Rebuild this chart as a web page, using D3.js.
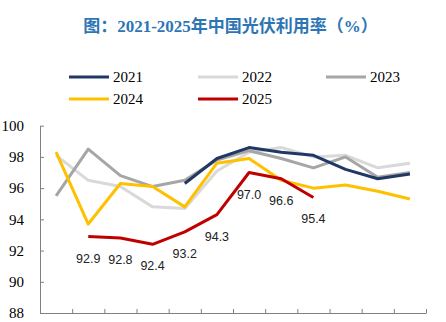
<!DOCTYPE html>
<html>
<head>
<meta charset="utf-8">
<script src="https://cdn.jsdelivr.net/npm/d3@7"></script>
<style>
  body { margin: 0; background: #fff; }
  svg { display: block; }
</style>
</head>
<body>
<div id="chart"></div>
<script>
// months 1..12, null = no data
const months = d3.range(1, 13);
const y2021 = [null, null, null, null, 96.3, 97.9, 98.6, 98.3, 98.1, 97.2, 96.6, 96.9];
const y2022 = [98.1, 96.5, 96.1, 94.8, 94.7, 97.1, 98.3, 98.6, 98.0, 98.1, 97.3, 97.6];
const y2023 = [95.5, 98.5, 96.8, 96.1, 96.5, 97.8, 98.4, 97.9, 97.3, 98.0, 96.7, 97.0];
const y2024 = [98.3, 93.7, 96.3, 96.1, 94.8, 97.6, 97.9, 96.5, 96.0, 96.2, 95.8, 95.3];
const y2025 = [null, 92.9, 92.8, 92.4, 93.2, 94.3, 97.0, 96.6, 95.4, null, null, null];
const yTicks = [88, 90, 92, 94, 96, 98, 100];

const series = [
  {name: "2021", values: y2021, color: "#1f3864"},
  {name: "2022", values: y2022, color: "#d9d9d9"},
  {name: "2023", values: y2023, color: "#a6a6a6"},
  {name: "2024", values: y2024, color: "#ffc000"},
  {name: "2025", values: y2025, color: "#c00000"}
];

const w = 446, h = 322;
const plotLeft = 40, plotRight = 426, plotTop = 125.7, plotBottom = 313;

const svg = d3.select("#chart").append("svg")
  .attr("width", w)
  .attr("height", h);

const x = d3.scaleLinear().domain([0, 12]).range([plotLeft, plotRight]);
const y = d3.scaleLinear().domain([88, 100]).range([plotBottom, plotTop]);

// title
svg.append("text")
  .attr("x", 230.5)
  .attr("y", 32)
  .attr("text-anchor", "middle")
  .attr("fill", "#2e75b6")
  .style("font-family", "'Liberation Serif', 'Noto Sans CJK SC', serif")
  .style("font-weight", "bold")
  .style("font-size", "17px")
  .text("图：2021-2025年中国光伏利用率（%）");

// axes
const yAxis = d3.axisLeft(y).tickValues(yTicks).tickSize(-4).tickSizeOuter(0).tickPadding(16);
const gy = svg.append("g")
  .attr("transform", "translate(" + plotLeft + ",0)")
  .call(yAxis);
gy.selectAll("text")
  .style("font-family", "'Liberation Serif', serif")
  .style("font-size", "15px")
  .attr("fill", "#000");

const xAxis = d3.axisBottom(x).tickValues(d3.range(0, 13)).tickSize(-4).tickSizeOuter(0).tickFormat("");
svg.append("g")
  .attr("transform", "translate(0," + plotBottom + ")")
  .call(xAxis);

svg.selectAll(".domain, .tick line").attr("stroke", "#808080");

// lines
const line = d3.line()
  .defined(d => d != null)
  .x((d, i) => x(i + 0.5))
  .y(d => y(d));

const order = ["2022", "2023", "2024", "2021", "2025"];
order.forEach(n => {
  const s = series.find(d => d.name === n);
  svg.append("path")
    .datum(s.values)
    .attr("fill", "none")
    .attr("stroke", s.color)
    .attr("stroke-width", 3)
    .attr("stroke-linejoin", "round")
    .attr("d", line);
});

// 2025 labels
svg.selectAll(".lbl")
  .data(y2025.map((v, i) => ({v, i})).filter(d => d.v != null))
  .enter()
  .append("text")
  .attr("class", "lbl")
  .attr("x", d => x(d.i + 0.5))
  .attr("y", d => y(d.v) + 26)
  .attr("text-anchor", "middle")
  .attr("fill", "#222")
  .style("font-family", "'Liberation Sans', Arial, sans-serif")
  .style("font-size", "12.5px")
  .text(d => d.v.toFixed(1));

// legend
const legPos = [[69, 77], [198, 77], [326, 77], [69, 99], [198, 99]];
series.forEach((s, i) => {
  const g = svg.append("g").attr("transform", "translate(" + legPos[i][0] + "," + legPos[i][1] + ")");
  g.append("line")
    .attr("x1", 0).attr("x2", 40)
    .attr("stroke", s.color)
    .attr("stroke-width", 3);
  g.append("text")
    .attr("x", 44)
    .attr("y", 5)
    .style("font-family", "'Liberation Serif', serif")
    .style("font-size", "15px")
    .attr("fill", "#000")
    .text(s.name);
});
</script>
</body>
</html>
